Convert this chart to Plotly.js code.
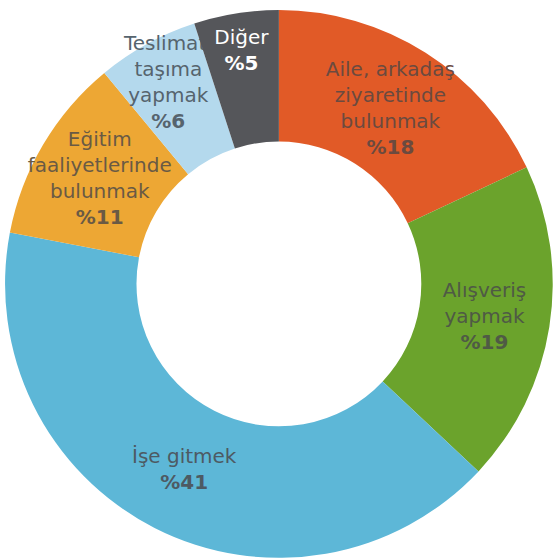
<!DOCTYPE html>
<html>
<head>
<meta charset="utf-8">
<script src="https://cdn.plot.ly/plotly-3.0.1.min.js"></script>
<style>html,body{margin:0;padding:0;background:#fff;}#chart{width:555px;height:560px;}</style>
</head>
<body>
<div id="chart"></div>
<script>
const labels = ["Aile, arkadaş<br>ziyaretinde<br>bulunmak", "Alışveriş<br>yapmak", "İşe gitmek", "Eğitim<br>faaliyetlerinde<br>bulunmak", "Teslimat,<br>taşıma<br>yapmak", "Diğer"];
const values = [18, 19, 41, 11, 6, 5];
const colors = ["#E15A27", "#6BA32C", "#5DB7D7", "#EDA734", "#B4D9ED", "#55565A"];
const textColors = ["#6b4a3f", "#4f5a45", "#4d5a63", "#6a5a44", "#56646e", "#ffffff"];

const texts = labels.map((l, i) => l + "<br><b>%" + values[i] + "</b>");

Plotly.newPlot("chart", [{
  type: "pie",
  values: values,
  labels: labels,
  text: texts,
  textinfo: "text",
  textposition: "inside",
  insidetextorientation: "horizontal",
  hole: 0.52,
  sort: false,
  direction: "clockwise",
  rotation: 0,
  marker: {colors: colors, line: {width: 0}},
  textfont: {family: "DejaVu Sans, sans-serif", size: 20, color: textColors},
  domain: {x: [0.009, 0.996], y: [0.004, 0.982]},
  showlegend: false,
  hoverinfo: "none"
}], {
  width: 555,
  height: 560,
  margin: {l: 0, r: 0, t: 0, b: 0},
  paper_bgcolor: "#ffffff",
  showlegend: false,
  uniformtext: {mode: "show", minsize: 20}
}, {displayModeBar: false, staticPlot: true});
</script>
</body>
</html>
